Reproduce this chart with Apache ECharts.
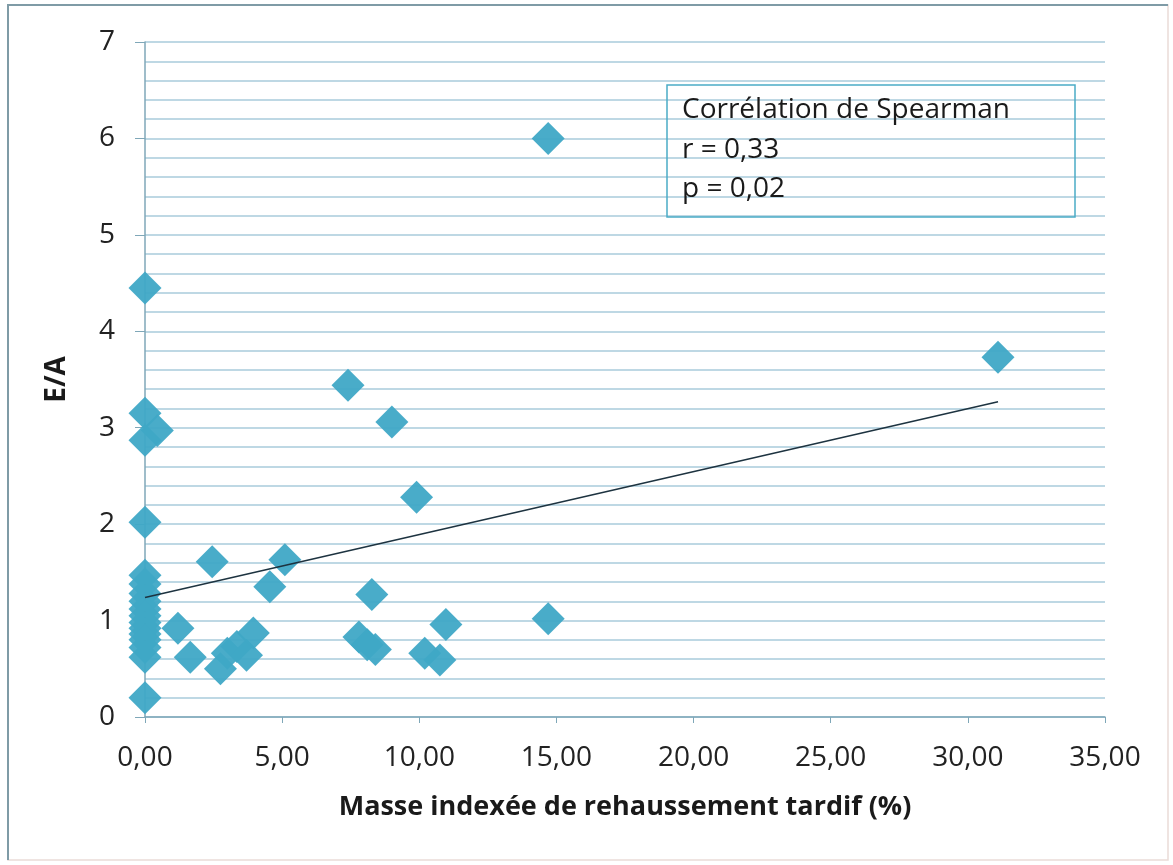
<!DOCTYPE html>
<html>
<head>
<meta charset="utf-8">
<script src="https://cdn.jsdelivr.net/npm/echarts@6/dist/echarts.min.js"></script>
<style>
  html, body { margin: 0; padding: 0; background: #fff; }
  #chart { width: 1173px; height: 865px; }
</style>
</head>
<body>
<div id="chart"></div>
<script>
// masse indexée de rehaussement tardif (%)
var masseValues = [
  0, 0, 0.45, 0, 0, 0, 0, 0, 0, 0, 0, 0, 0, 0, 0, 0, 0, 0,
  1.2, 1.65, 2.45, 2.75, 3.0, 3.35, 3.7, 3.95, 4.55, 5.1,
  7.4, 7.8, 8.1, 8.4, 8.27, 9.0, 9.9, 10.2, 10.75, 10.97,
  14.7, 14.7, 31.1
];
// rapport E/A
var eaValues = [
  4.45, 3.15, 2.97, 2.87, 2.02, 1.47, 1.38, 1.28, 1.2, 1.12, 1.05, 0.98, 0.92, 0.86, 0.8, 0.72, 0.62, 0.2,
  0.92, 0.62, 1.61, 0.5, 0.66, 0.73, 0.64, 0.87, 1.35, 1.63,
  3.44, 0.83, 0.75, 0.7, 1.27, 3.06, 2.28, 0.66, 0.59, 0.96,
  6.0, 1.02, 3.73
];
// droite de tendance (extrémités)
var trendX = [0, 31.1];
var trendY = [1.24, 3.27];

var xTicks = [0, 5, 10, 15, 20, 25, 30, 35];
var yTicks = [0, 1, 2, 3, 4, 5, 6, 7];

var statLines = ['Corrélation de Spearman', 'r = 0,33', 'p = 0,02'];

var points = masseValues.map(function (x, i) { return [x, eaValues[i]]; });
var trend = trendX.map(function (x, i) { return [x, trendY[i]]; });

var chart = echarts.init(document.getElementById('chart'));
var font = '"Open Sans", Lato, sans-serif';
var gridColor = '#a9cbdb';
var axisColor = '#7fa7b8';

chart.setOption({
  backgroundColor: '#fff',
  animation: false,
  textStyle: { fontFamily: font },
  grid: { left: 145, right: 68, top: 42, bottom: 148 },
  xAxis: {
    type: 'value',
    min: xTicks[0],
    max: xTicks[xTicks.length - 1],
    interval: 5,
    name: 'Masse indexée de rehaussement tardif (%)',
    nameLocation: 'middle',
    nameGap: 77,
    nameTextStyle: { fontSize: 27, fontWeight: 'bold', color: '#1a1a1a', fontFamily: font },
    axisLine: { lineStyle: { color: axisColor, width: 1.5 } },
    axisTick: { show: true, length: 6, lineStyle: { color: axisColor } },
    axisLabel: {
      fontSize: 28, color: '#222', margin: 27, fontFamily: font,
      formatter: function (v) { return v.toFixed(2).replace('.', ','); }
    },
    splitLine: { show: false }
  },
  yAxis: {
    type: 'value',
    min: yTicks[0],
    max: yTicks[yTicks.length - 1],
    interval: 1,
    name: 'E/A',
    nameLocation: 'middle',
    nameGap: 74,
    nameTextStyle: { fontSize: 28, fontWeight: 'bold', color: '#1a1a1a', fontFamily: font },
    axisLine: { show: true, lineStyle: { color: axisColor, width: 1.5 } },
    axisTick: { show: true, length: 10, lineStyle: { color: axisColor } },
    axisLabel: { fontSize: 28, color: '#222', margin: 30, fontFamily: font },
    splitLine: { show: true, lineStyle: { color: gridColor, width: 1.5 } },
    minorTick: { show: false, splitNumber: 5 },
    minorSplitLine: { show: true, lineStyle: { color: gridColor, width: 1.5 } }
  },
  series: [
    {
      type: 'scatter',
      data: points,
      symbol: 'diamond',
      symbolSize: 33,
      itemStyle: { color: '#3fa8c6', opacity: 0.95 },
      z: 3
    },
    {
      type: 'line',
      data: trend,
      symbol: 'none',
      lineStyle: { color: '#1d3340', width: 1.5 },
      z: 4
    }
  ],
  graphic: [
    {
      type: 'rect',
      shape: { x: 8, y: 5, width: 1160, height: 855 },
      style: { fill: 'none', stroke: '#eadcd8', lineWidth: 1.5 },
      silent: true
    },
    {
      type: 'polyline',
      shape: { points: [[8, 860], [8, 5], [1168, 5]] },
      style: { fill: 'none', stroke: '#7f9ba6', lineWidth: 2 },
      silent: true
    },
    {
      type: 'rect',
      shape: { x: 667, y: 85, width: 408, height: 132 },
      style: { fill: 'none', stroke: '#4bacc6', lineWidth: 1.5 },
      z: 10
    },
    {
      type: 'text', left: 682, top: 96, z: 11,
      style: { text: statLines[0], font: '28px ' + font, fill: '#1a1a1a' }
    },
    {
      type: 'text', left: 682, top: 136, z: 11,
      style: { text: statLines[1], font: '28px ' + font, fill: '#1a1a1a' }
    },
    {
      type: 'text', left: 682, top: 175, z: 11,
      style: { text: statLines[2], font: '28px ' + font, fill: '#1a1a1a' }
    }
  ]
});
</script>
</body>
</html>
